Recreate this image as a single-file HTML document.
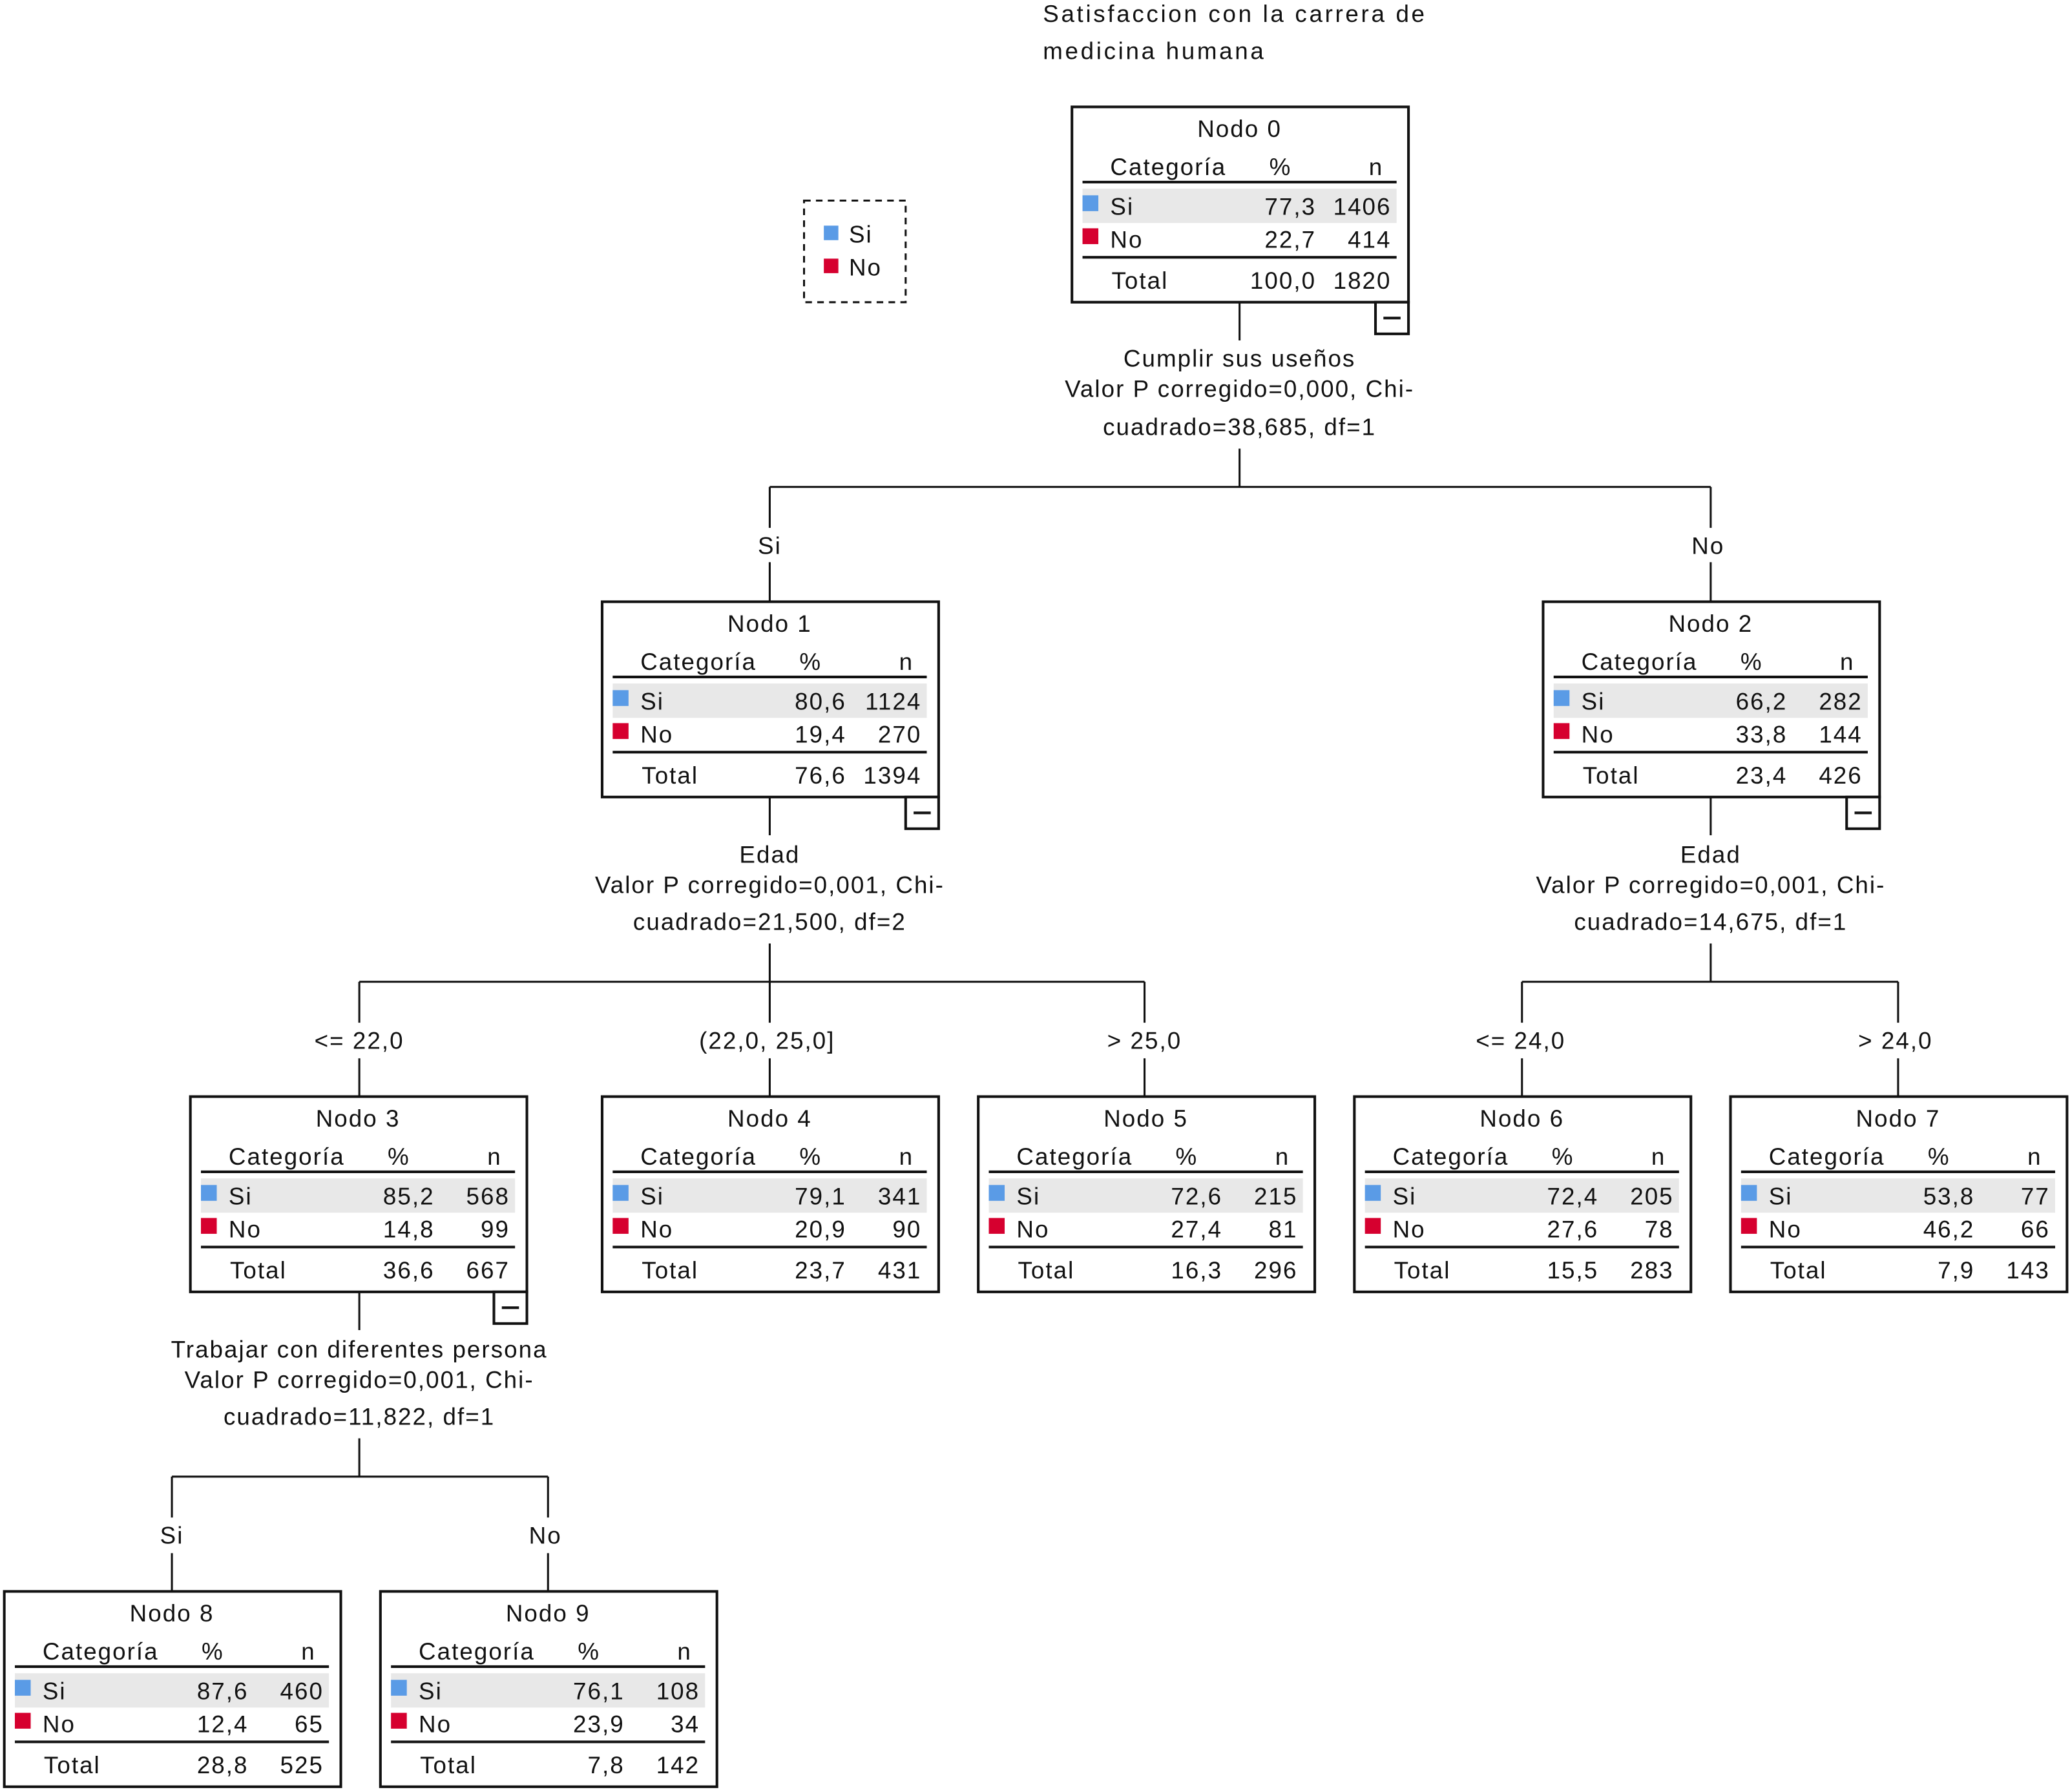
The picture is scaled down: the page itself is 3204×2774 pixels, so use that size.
<!DOCTYPE html>
<html><head><meta charset="utf-8"><style>
html,body{margin:0;padding:0;background:#fff}
svg{display:block}
text{font-family:"Liberation Sans",sans-serif;font-size:18px;fill:#111;letter-spacing:1px;dominant-baseline:middle;transform:translate(0px,2px)}
.m{text-anchor:middle}.e{text-anchor:end}
.b{fill:#fff;stroke:#111;stroke-width:2}
.l{stroke:#111;stroke-width:2}
.c{stroke:#111;stroke-width:1.5;fill:none}
.h{fill:#e8e8e8}.bl{fill:#5a9be6}.rd{fill:#d6002f}
</style></head><body>
<svg width="3204" height="2774" viewBox="0 0 1568 1358" xmlns="http://www.w3.org/2000/svg">
<defs>
<g id="frame">
<rect class="b" x="0" y="0" width="255" height="148"/>
<line class="l" x1="8" y1="57" x2="246" y2="57"/>
<rect class="h" x="8" y="62" width="238" height="26"/>
<rect class="bl" x="8" y="67" width="12" height="12"/>
<rect class="rd" x="8" y="92" width="12" height="12"/>
<line class="l" x1="8" y1="114" x2="246" y2="114"/>
<text x="29" y="45">Categoría</text><text x="158" y="45" class="m">%</text><text x="236" y="45" class="e">n</text>
<text x="29" y="75">Si</text><text x="29" y="100">No</text><text x="30" y="131">Total</text>
</g>
<g id="minus"><rect class="b" x="230" y="148" width="25" height="24"/><line class="l" x1="236" y1="160" x2="249" y2="160"/></g>
</defs>

<text x="790" y="10" style="letter-spacing:1.8px">Satisfaccion con la carrera de</text>
<text x="790" y="38" style="letter-spacing:1.8px">medicina humana</text>

<rect x="609" y="152" width="77" height="77" fill="none" stroke="#111" stroke-width="1.5" stroke-dasharray="5,4"/>
<rect class="bl" x="624" y="171" width="11" height="11"/><text x="643" y="177">Si</text>
<rect class="rd" x="624" y="196" width="11" height="11"/><text x="643" y="202">No</text>

<path class="c" d="M939 229V258 M939 340V369 M583 369H1296 M583 369V400 M583 426V456 M1296 369V400 M1296 426V456"/>
<text x="939" y="271" class="m">Cumplir sus useños</text>
<text x="939" y="294" class="m">Valor P corregido=0,000, Chi-</text>
<text x="939" y="323" class="m">cuadrado=38,685, df=1</text>
<text x="583" y="413" class="m">Si</text><text x="1294" y="413" class="m">No</text>

<path class="c" d="M583 604V633 M583 715V744 M272 744H867 M272 744V775 M272 802V831 M583 744V775 M583 802V831 M867 744V775 M867 802V831"/>
<text x="583" y="647" class="m">Edad</text>
<text x="583" y="670" class="m">Valor P corregido=0,001, Chi-</text>
<text x="583" y="698" class="m">cuadrado=21,500, df=2</text>
<text x="272" y="788" class="m">&lt;= 22,0</text><text x="581" y="788" class="m">(22,0, 25,0]</text><text x="867" y="788" class="m">&gt; 25,0</text>

<path class="c" d="M1296 604V633 M1296 715V744 M1153 744H1438 M1153 744V775 M1153 802V831 M1438 744V775 M1438 802V831"/>
<text x="1296" y="647" class="m">Edad</text>
<text x="1296" y="670" class="m">Valor P corregido=0,001, Chi-</text>
<text x="1296" y="698" class="m">cuadrado=14,675, df=1</text>
<text x="1152" y="788" class="m">&lt;= 24,0</text><text x="1436" y="788" class="m">&gt; 24,0</text>

<path class="c" d="M272 979V1008 M272 1090V1119 M130 1119H415 M130 1119V1150 M130 1177V1206 M415 1119V1150 M415 1177V1206"/>
<text x="272" y="1022" class="m">Trabajar con diferentes persona</text>
<text x="272" y="1045" class="m">Valor P corregido=0,001, Chi-</text>
<text x="272" y="1073" class="m">cuadrado=11,822, df=1</text>
<text x="130" y="1163" class="m">Si</text><text x="413" y="1163" class="m">No</text>

<g transform="translate(812,81)"><use href="#frame"/><use href="#minus"/>
<text x="127" y="16" class="m">Nodo 0</text>
<text x="185" y="75" class="e">77,3</text><text x="242" y="75" class="e">1406</text>
<text x="185" y="100" class="e">22,7</text><text x="242" y="100" class="e">414</text>
<text x="185" y="131" class="e">100,0</text><text x="242" y="131" class="e">1820</text></g>

<g transform="translate(456,456)"><use href="#frame"/><use href="#minus"/>
<text x="127" y="16" class="m">Nodo 1</text>
<text x="185" y="75" class="e">80,6</text><text x="242" y="75" class="e">1124</text>
<text x="185" y="100" class="e">19,4</text><text x="242" y="100" class="e">270</text>
<text x="185" y="131" class="e">76,6</text><text x="242" y="131" class="e">1394</text></g>

<g transform="translate(1169,456)"><use href="#frame"/><use href="#minus"/>
<text x="127" y="16" class="m">Nodo 2</text>
<text x="185" y="75" class="e">66,2</text><text x="242" y="75" class="e">282</text>
<text x="185" y="100" class="e">33,8</text><text x="242" y="100" class="e">144</text>
<text x="185" y="131" class="e">23,4</text><text x="242" y="131" class="e">426</text></g>

<g transform="translate(144,831)"><use href="#frame"/><use href="#minus"/>
<text x="127" y="16" class="m">Nodo 3</text>
<text x="185" y="75" class="e">85,2</text><text x="242" y="75" class="e">568</text>
<text x="185" y="100" class="e">14,8</text><text x="242" y="100" class="e">99</text>
<text x="185" y="131" class="e">36,6</text><text x="242" y="131" class="e">667</text></g>

<g transform="translate(456,831)"><use href="#frame"/>
<text x="127" y="16" class="m">Nodo 4</text>
<text x="185" y="75" class="e">79,1</text><text x="242" y="75" class="e">341</text>
<text x="185" y="100" class="e">20,9</text><text x="242" y="100" class="e">90</text>
<text x="185" y="131" class="e">23,7</text><text x="242" y="131" class="e">431</text></g>

<g transform="translate(741,831)"><use href="#frame"/>
<text x="127" y="16" class="m">Nodo 5</text>
<text x="185" y="75" class="e">72,6</text><text x="242" y="75" class="e">215</text>
<text x="185" y="100" class="e">27,4</text><text x="242" y="100" class="e">81</text>
<text x="185" y="131" class="e">16,3</text><text x="242" y="131" class="e">296</text></g>

<g transform="translate(1026,831)"><use href="#frame"/>
<text x="127" y="16" class="m">Nodo 6</text>
<text x="185" y="75" class="e">72,4</text><text x="242" y="75" class="e">205</text>
<text x="185" y="100" class="e">27,6</text><text x="242" y="100" class="e">78</text>
<text x="185" y="131" class="e">15,5</text><text x="242" y="131" class="e">283</text></g>

<g transform="translate(1311,831)"><use href="#frame"/>
<text x="127" y="16" class="m">Nodo 7</text>
<text x="185" y="75" class="e">53,8</text><text x="242" y="75" class="e">77</text>
<text x="185" y="100" class="e">46,2</text><text x="242" y="100" class="e">66</text>
<text x="185" y="131" class="e">7,9</text><text x="242" y="131" class="e">143</text></g>

<g transform="translate(3,1206)"><use href="#frame"/>
<text x="127" y="16" class="m">Nodo 8</text>
<text x="185" y="75" class="e">87,6</text><text x="242" y="75" class="e">460</text>
<text x="185" y="100" class="e">12,4</text><text x="242" y="100" class="e">65</text>
<text x="185" y="131" class="e">28,8</text><text x="242" y="131" class="e">525</text></g>

<g transform="translate(288,1206)"><use href="#frame"/>
<text x="127" y="16" class="m">Nodo 9</text>
<text x="185" y="75" class="e">76,1</text><text x="242" y="75" class="e">108</text>
<text x="185" y="100" class="e">23,9</text><text x="242" y="100" class="e">34</text>
<text x="185" y="131" class="e">7,8</text><text x="242" y="131" class="e">142</text></g>
</svg>
</body></html>
